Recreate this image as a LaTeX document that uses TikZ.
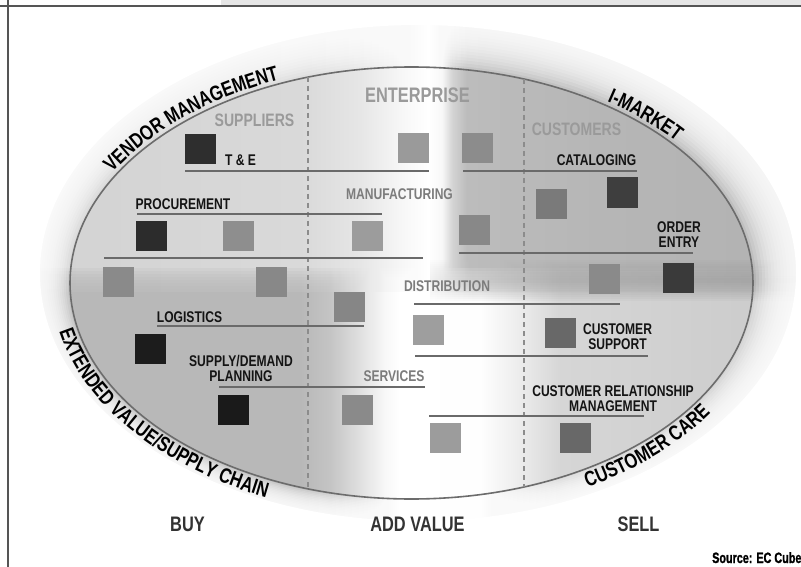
\documentclass[tikz,border=0pt]{standalone}
\usepackage{fontspec}
\setmainfont{Liberation Sans}
\newfontfamily\cf{Liberation Sans}[FakeStretch=0.78]
\newfontfamily\srcf{Liberation Sans}[FakeStretch=0.72,FakeBold=1.2]
\usetikzlibrary{decorations.text}
\newcommand\curvefont{\cf\bfseries\fontsize{21}{21}\selectfont}

\definecolor{ts0}{HTML}{D2D2D2}
\definecolor{ts1}{HTML}{D4D4D4}
\definecolor{ts2}{HTML}{D9D9D9}
\definecolor{ts3}{HTML}{E6E6E6}
\definecolor{ts4}{HTML}{F6F6F6}
\definecolor{ts5}{HTML}{FFFFFF}
\definecolor{ts6}{HTML}{F8F8F8}
\definecolor{ts7}{HTML}{D4D4D4}
\definecolor{ts8}{HTML}{BCBCBC}
\definecolor{ts9}{HTML}{B6B6B6}
\definecolor{ts10}{HTML}{B2B2B2}
\pgfdeclarehorizontalshading{topshade}{100bp}{%
 color(0bp)=(ts0); color(25bp)=(ts0); color(31.19bp)=(ts1); color(43.69bp)=(ts2);
 color(47.44bp)=(ts3); color(49.94bp)=(ts4); color(51.69bp)=(ts5); color(52.56bp)=(ts6);
 color(53.19bp)=(ts7); color(54.1bp)=(ts8); color(62.44bp)=(ts9); color(75bp)=(ts10); color(100bp)=(ts10)}

\definecolor{bs0}{HTML}{B8B8B8}
\definecolor{bs1}{HTML}{C4C4C4}
\definecolor{bs2}{HTML}{E0E0E0}
\definecolor{bs3}{HTML}{F8F8F8}
\definecolor{bs4}{HTML}{FFFFFF}
\definecolor{bs5}{HTML}{FEFEFE}
\definecolor{bs6}{HTML}{ECECEC}
\definecolor{bs7}{HTML}{D6D6D6}
\definecolor{bs8}{HTML}{CACACA}
\pgfdeclarehorizontalshading{botshade}{100bp}{%
 color(0bp)=(bs0); color(25bp)=(bs0); color(43.69bp)=(bs0); color(45.56bp)=(bs1);
 color(47.44bp)=(bs2); color(49bp)=(bs3); color(49.94bp)=(bs4); color(54.94bp)=(bs5);
 color(57.44bp)=(bs6); color(59.94bp)=(bs7); color(75bp)=(bs8); color(100bp)=(bs8)}

\definecolor{bd0}{HTML}{F0F0F0}
\definecolor{bd1}{HTML}{C4C4C4}
\definecolor{bd2}{HTML}{A8A8A8}
\definecolor{bd3}{HTML}{9A9A9A}
\pgfdeclarehorizontalshading{bandshade}{100bp}{%
 color(0bp)=(bd0); color(25bp)=(bd0); color(30.39bp)=(bd1); color(42.52bp)=(bd2);
 color(75bp)=(bd3); color(100bp)=(bd3)}

\definecolor{hdrgray}{HTML}{9A9A9A}
\definecolor{midgray}{HTML}{7C7C7C}
\definecolor{labelblack}{HTML}{141414}
\definecolor{bottomc}{HTML}{333333}
\definecolor{linegray}{HTML}{6A6A6A}
\definecolor{dashgray}{HTML}{8C8C8C}
\definecolor{outlc}{HTML}{6C6C6C}
\definecolor{framec}{HTML}{555555}
\definecolor{stripgray}{HTML}{E6E6E6}

\definecolor{qa}{HTML}{2E2E2E}
\definecolor{qb}{HTML}{9A9A9A}
\definecolor{qc}{HTML}{8C8C8C}
\definecolor{qd}{HTML}{7A7A7A}
\definecolor{qe}{HTML}{3E3E3E}
\definecolor{qf}{HTML}{2C2C2C}
\definecolor{qg}{HTML}{8E8E8E}
\definecolor{qh}{HTML}{9C9C9C}
\definecolor{qi}{HTML}{888888}
\definecolor{qj}{HTML}{8A8A8A}
\definecolor{ql}{HTML}{868686}
\definecolor{qn}{HTML}{3A3A3A}
\definecolor{qo}{HTML}{1C1C1C}
\definecolor{qp}{HTML}{9E9E9E}
\definecolor{qq}{HTML}{686868}
\definecolor{qr}{HTML}{1A1A1A}

\begin{document}
\begin{tikzpicture}[x=1pt,y=-1pt,
  lbl/.style={font=\cf\bfseries\fontsize{15.5}{15}\selectfont, text=labelblack, inner sep=0pt, align=center},
  glbl/.style={lbl, text=midgray},
  hdr/.style={font=\cf\bfseries\fontsize{18}{18}\selectfont, text=hdrgray, inner sep=0pt},
  bigl/.style={font=\cf\bfseries\fontsize{21}{21}\selectfont, text=bottomc, inner sep=0pt},
  sq/.style={minimum width=31pt, minimum height=30pt, inner sep=0pt, draw=none},
  hline/.style={draw=linegray, line width=2pt},
  dline/.style={draw=dashgray, line width=1.3pt, dash pattern=on 5pt off 4pt},
  outl/.style={draw=outlc, line width=1.6pt},
  curvetext/.style={decorate, decoration={text along path, text align=center, text color=black, text={|\curvefont|#1}}}
]
\useasboundingbox (0,0) rectangle (801,567);

% --- lighting pattern ---
\shade[shading=topshade] (1,0) rectangle (801,567);
\foreach \i in {0,...,7} \shade[shading=botshade, opacity=0.2] (1,{268+3*\i}) rectangle (801,567);
\shade[shading=botshade] (1,292) rectangle (801,567);
\foreach \h in {2,4,...,20} \shade[shading=bandshade, opacity=0.1] (430,{280-\h}) rectangle (801,{280+\h});

% --- soft shadow mask ---
\foreach \i in {0,...,13}{
  \pgfmathsetmacro\mcx{411.5+6.5*\i/14}
  \pgfmathsetmacro\mcy{283-10*\i/14}
  \pgfmathsetmacro\mrx{341.5+36.5*\i/14}
  \pgfmathsetmacro\mry{216+32*\i/14}
  \fill[white, opacity=0.16, even odd rule] (-5,-5) rectangle (806,572) (\mcx,\mcy) ellipse [x radius=\mrx pt, y radius=\mry pt];
}
\fill[white, even odd rule] (-5,-5) rectangle (806,572) (418,273) ellipse [x radius=378pt, y radius=248pt];

% --- frame ---
\fill[stripgray] (221,0) rectangle (801,5.5);
\draw[framec, line width=1.2pt] (0,6) -- (801,6);
\draw[framec, line width=1.4pt] (8,0) -- (8,567);

% --- ellipse and column dividers ---
\draw[outl] (411.5,283) ellipse [x radius=341.5pt, y radius=216pt];
\draw[dline] (308,77) -- (308,489);
\draw[dline] (524,79) -- (524,487);

% --- horizontal rules ---
\draw[hline] (185,171) -- (429,171);
\draw[hline] (463,171) -- (637,171);
\draw[hline] (137,214) -- (382,214);
\draw[hline] (104,258) -- (423,258);
\draw[hline] (459,253) -- (693,253);
\draw[hline] (157,326) -- (364,326);
\draw[hline] (414,304) -- (620,304);
\draw[hline] (415,356) -- (648,356);
\draw[hline] (219,387) -- (425,387);
\draw[hline] (429,416) -- (644,416);

% --- squares ---
\node[sq, fill=qa] (sqa) at (200,149.5) {};
\node[sq, fill=qb] (sqb) at (413.5,148) {};
\node[sq, fill=qc] (sqc) at (477.5,148) {};
\node[sq, fill=qd] (sqd) at (551.5,204) {};
\node[sq, fill=qe] (sqe) at (622,192.5) {};
\node[sq, fill=qf] (sqf) at (151.5,236) {};
\node[sq, fill=qg] (sqg) at (238.5,236) {};
\node[sq, fill=qh] (sqh) at (367,236) {};
\node[sq, fill=qi] (sqi) at (474.5,229.5) {};
\node[sq, fill=qj] (sqj) at (118.5,282) {};
\node[sq, fill=qi] (sqk) at (271.5,282) {};
\node[sq, fill=ql] (sql) at (349,306.5) {};
\node[sq, fill=qj] (sqm) at (604.5,278.5) {};
\node[sq, fill=qn] (sqn) at (678,277.5) {};
\node[sq, fill=qo] (sqo) at (150.5,348.5) {};
\node[sq, fill=qp] (sqp) at (428.5,329.5) {};
\node[sq, fill=qq] (sqq) at (560,333) {};
\node[sq, fill=qr] (sqr) at (233.5,409.5) {};
\node[sq, fill=qj] (sqs) at (357,409.5) {};
\node[sq, fill=qh] (sqt) at (445,438) {};
\node[sq, fill=qq] (squ) at (575,438) {};

% --- headers ---
\node[hdr, font=\cf\bfseries\fontsize{21}{21}\selectfont, anchor=base] (enterprise) at (417.5,103) {ENTERPRISE};
\node[hdr, anchor=base] (suppliers) at (254.5,127) {SUPPLIERS};
\node[hdr, anchor=base] (customers) at (576.5,136) {CUSTOMERS};

% --- labels ---
\node[lbl, anchor=base] (te) at (240.5,166) {T \& E};
\node[lbl, anchor=base] (catalog) at (596.5,166) {CATALOGING};
\node[glbl, anchor=base] (manuf) at (399.5,200) {MANUFACTURING};
\node[lbl, anchor=base] (procure) at (183,209) {PROCUREMENT};
\node[lbl, anchor=north] (order) at (679,221) {ORDER\\ENTRY};
\node[glbl, anchor=base] (distrib) at (447,291) {DISTRIBUTION};
\node[lbl, anchor=base] (logist) at (189.5,322) {LOGISTICS};
\node[lbl, anchor=north] (custsup) at (617.5,323) {CUSTOMER\\SUPPORT};
\node[lbl, anchor=north] (supdem) at (241,355) {SUPPLY/DEMAND\\PLANNING};
\node[glbl, anchor=base] (services) at (394,381) {SERVICES};
\node[lbl, anchor=north] (crm) at (613,385) {CUSTOMER RELATIONSHIP\\MANAGEMENT};

% --- bottom labels ---
\node[bigl, anchor=base] (buy) at (187.5,531) {BUY};
\node[bigl, anchor=base] (addvalue) at (417.5,531) {ADD VALUE};
\node[bigl, anchor=base] (sell) at (638.5,531) {SELL};
\node[font=\srcf\bfseries\fontsize{15}{15}\selectfont, text=black, inner sep=0pt, anchor=base west] (src) at (712,563) {Source: EC Cubed};

% --- curved texts ---
\path[curvetext={VENDOR MANAGEMENT}] plot[domain=194:259, samples=66] ({411.5+345.5*cos(\x)}, {283+220*sin(\x)});
\path[curvetext={I-MARKET}] plot[domain=293:334, samples=42] ({411.5+345.5*cos(\x)}, {283+220*sin(\x)});
\path[curvetext={EXTENDED VALUE/SUPPLY CHAIN}] plot[domain=181:105, samples=77] ({411.5+360*cos(\x)}, {283+234.5*sin(\x)});
\path[curvetext={CUSTOMER CARE}] plot[domain=81:6, samples=76] ({411.5+360*cos(\x)}, {283+234.5*sin(\x)});
\end{tikzpicture}
\end{document}
